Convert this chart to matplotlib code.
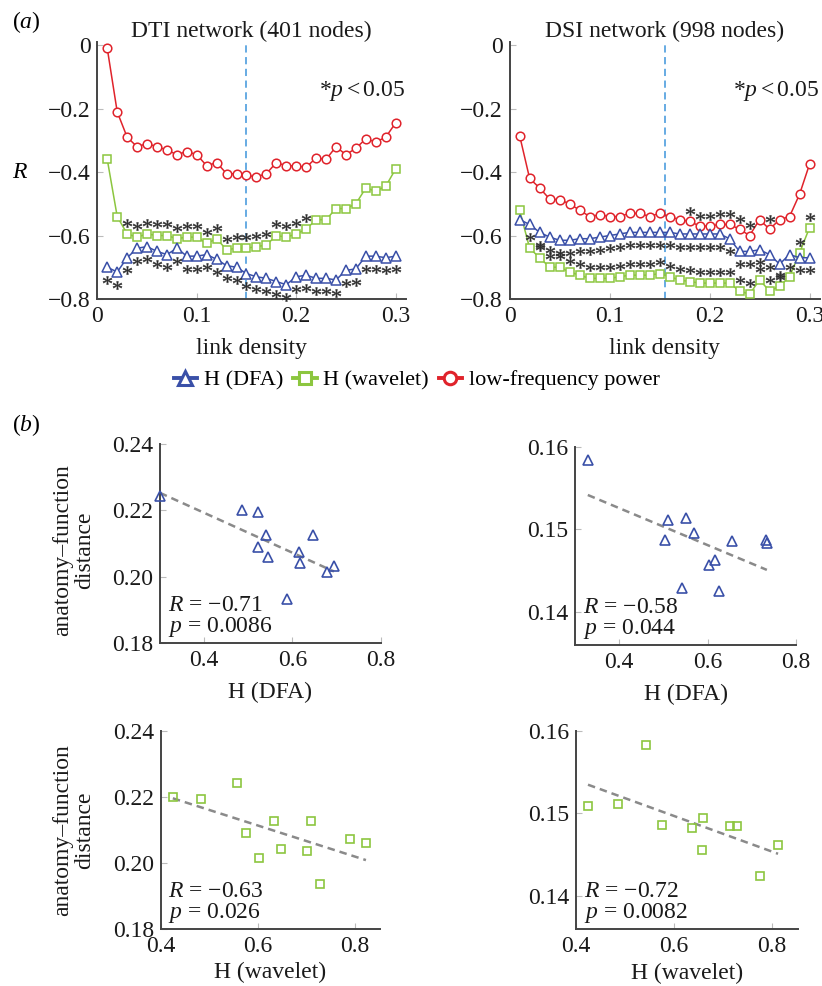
import numpy as np
import matplotlib
matplotlib.use("Agg")
import matplotlib.pyplot as plt
from matplotlib.ticker import FuncFormatter
from matplotlib.lines import Line2D

plt.rcParams["font.family"] = ["Liberation Serif", "DejaVu Serif"]
plt.rcParams["mathtext.fontset"] = "custom"
plt.rcParams["mathtext.rm"] = "Liberation Serif"
plt.rcParams["mathtext.it"] = "Liberation Serif:italic"
plt.rcParams["axes.unicode_minus"] = True

BLUE = "#3a50a8"
GREEN = "#8cc63f"
RED = "#e0232b"
STAR = "#2e2e2e"

# (a) link density on the x axis
density = [0.01, 0.02, 0.03, 0.04, 0.05, 0.06, 0.07, 0.08, 0.09, 0.10,
           0.11, 0.12, 0.13, 0.14, 0.15, 0.16, 0.17, 0.18, 0.19, 0.20,
           0.21, 0.22, 0.23, 0.24, 0.25, 0.26, 0.27, 0.28, 0.29, 0.30]

# DTI network (401 nodes)
dti_power = [-0.01, -0.21, -0.29, -0.32, -0.31, -0.32, -0.33, -0.345, -0.335, -0.345,
             -0.38, -0.37, -0.405, -0.405, -0.41, -0.415, -0.405, -0.37, -0.38, -0.38,
             -0.385, -0.355, -0.36, -0.32, -0.345, -0.325, -0.295, -0.305, -0.29, -0.245]
dti_wavelet = [-0.36, -0.54, -0.595, -0.605, -0.595, -0.60, -0.60, -0.61, -0.605, -0.605,
               -0.625, -0.61, -0.645, -0.64, -0.64, -0.635, -0.63, -0.60, -0.605, -0.595,
               -0.58, -0.55, -0.55, -0.515, -0.515, -0.50, -0.45, -0.46, -0.445, -0.39]
dti_dfa = [-0.70, -0.715, -0.67, -0.64, -0.635, -0.65, -0.66, -0.64, -0.665, -0.665,
           -0.66, -0.675, -0.695, -0.70, -0.72, -0.73, -0.735, -0.745, -0.755, -0.73,
           -0.725, -0.735, -0.735, -0.74, -0.71, -0.705, -0.665, -0.665, -0.67, -0.665]
dti_sig_power = []
dti_sig_wavelet = [0.03, 0.04, 0.05, 0.06, 0.07, 0.08, 0.09, 0.10, 0.11, 0.12,
                   0.13, 0.14, 0.15, 0.16, 0.17, 0.18, 0.19, 0.20, 0.21]
dti_sig_dfa = density

# DSI network (998 nodes)
dsi_power = [-0.285, -0.42, -0.45, -0.485, -0.487, -0.50, -0.52, -0.54, -0.535, -0.54,
             -0.54, -0.53, -0.53, -0.54, -0.53, -0.54, -0.55, -0.555, -0.57, -0.57,
             -0.565, -0.565, -0.58, -0.60, -0.55, -0.58, -0.55, -0.54, -0.47, -0.375]
dsi_wavelet = [-0.52, -0.64, -0.67, -0.70, -0.70, -0.715, -0.725, -0.735, -0.735, -0.735,
               -0.73, -0.725, -0.725, -0.725, -0.72, -0.73, -0.74, -0.745, -0.75, -0.75,
               -0.75, -0.75, -0.775, -0.785, -0.74, -0.775, -0.76, -0.73, -0.655, -0.575]
dsi_dfa = [-0.55, -0.565, -0.59, -0.605, -0.615, -0.615, -0.61, -0.61, -0.605, -0.60,
           -0.595, -0.59, -0.59, -0.59, -0.59, -0.59, -0.595, -0.595, -0.595, -0.595,
           -0.595, -0.61, -0.65, -0.65, -0.645, -0.66, -0.69, -0.66, -0.67, -0.67]
dsi_sig_power = [0.18, 0.19, 0.20, 0.21, 0.22, 0.23, 0.24, 0.26]
dsi_sig_wavelet = [0.03, 0.04, 0.05, 0.06, 0.07, 0.08, 0.09, 0.10, 0.11, 0.12,
                   0.13, 0.14, 0.15, 0.16, 0.17, 0.18, 0.19, 0.20, 0.21, 0.22,
                   0.23, 0.24, 0.25, 0.26, 0.27, 0.29, 0.30]
dsi_sig_dfa = density[1:]

dti_cutoff = 0.15
dsi_cutoff = 0.155

# (b) anatomy-function distance vs H, one point per subject
dti_h_dfa = [0.30, 0.486, 0.521, 0.541, 0.521, 0.545, 0.647, 0.615, 0.617, 0.679, 0.694, 0.587]
dti_dist_dfa = [0.2245, 0.2201, 0.2194, 0.2126, 0.2090, 0.2058, 0.2126, 0.2073, 0.2042, 0.2014, 0.2033, 0.1933]
dsi_h_dfa = [0.329, 0.511, 0.552, 0.570, 0.504, 0.655, 0.733, 0.734, 0.616, 0.603, 0.542, 0.625]
dsi_dist_dfa = [0.1584, 0.1511, 0.1514, 0.1496, 0.1487, 0.1486, 0.1487, 0.1483, 0.1463, 0.1457, 0.1429, 0.1425]
dti_h_wav = [0.425, 0.483, 0.557, 0.576, 0.603, 0.633, 0.648, 0.701, 0.710, 0.728, 0.790, 0.823]
dti_dist_wav = [0.2200, 0.2193, 0.2242, 0.2089, 0.2015, 0.2125, 0.2042, 0.2034, 0.2125, 0.1934, 0.2072, 0.2059]
dsi_h_wav = [0.4245, 0.486, 0.542, 0.576, 0.636, 0.660, 0.656, 0.714, 0.728, 0.812, 0.776]
dsi_dist_wav = [0.1509, 0.1512, 0.1583, 0.1486, 0.1482, 0.1494, 0.1456, 0.1485, 0.1485, 0.1462, 0.1424]

stats_text = ["$R$ = −0.71\n$p$ = 0.0086", "$R$ = −0.58\n$p$ = 0.044",
              "$R$ = −0.63\n$p$ = 0.026", "$R$ = −0.72\n$p$ = 0.0082"]


def style_axes(ax):
    for side in ["top", "right"]:
        ax.spines[side].set_visible(False)
    for side in ["left", "bottom"]:
        ax.spines[side].set_color("#444444")
        ax.spines[side].set_linewidth(1.4)
    ax.tick_params(direction="in", length=4, width=0.8, color="#bbbbbb",
                   labelsize=17, pad=5, labelcolor="#1a1a1a")


def fmt_g(v, pos):
    return ("%g" % round(v, 3)).replace("-", "\u2212")


fig = plt.figure(figsize=(8.22, 9.86), dpi=100)

ax1 = fig.add_axes([0.1184, 0.6968, 0.375, 0.2605])
ax2 = fig.add_axes([0.620, 0.6968, 0.377, 0.2605])

panels = [
    (ax1, "DTI network (401 nodes)", dti_dfa, dti_wavelet, dti_power,
     dti_sig_dfa, dti_sig_wavelet, dti_sig_power, dti_cutoff),
    (ax2, "DSI network (998 nodes)", dsi_dfa, dsi_wavelet, dsi_power,
     dsi_sig_dfa, dsi_sig_wavelet, dsi_sig_power, dsi_cutoff),
]

for ax, title, dfa, wav, pw, s_dfa, s_wav, s_pw, cut in panels:
    ax.axvline(cut, color="#5aa5e0", lw=1.3, ls=(0, (4, 2.5)), zorder=1)
    ax.plot(density, pw, color=RED, lw=1.1, marker="o", ms=6.2, mfc="white",
            mew=1.1, zorder=3)
    ax.plot(density, wav, color=GREEN, lw=1.1, marker="s", ms=5.6, mfc="white",
            mew=1.1, zorder=3)
    ax.plot(density, dfa, color=BLUE, lw=1.1, marker="^", ms=7.8, mfc="white",
            mew=1.1, zorder=3)

    # significance stars: above the wavelet / power points, below the DFA points
    for sig, vals, off in [(s_pw, pw, 0.033), (s_wav, wav, 0.035), (s_dfa, dfa, -0.04)]:
        if not sig:
            continue
        xs = [d for d in sig]
        ys = [vals[density.index(d)] + off for d in sig]
        ax.plot(xs, ys, ls="none", marker="$*$", ms=6.6, color=STAR, mew=0.25,
                zorder=4, clip_on=False)

    ax.set_xlim(0, 0.31)
    ax.set_ylim(-0.8, 0.01)
    ax.set_xticks([0, 0.1, 0.2, 0.3])
    ax.set_yticks([0, -0.2, -0.4, -0.6, -0.8])
    ax.xaxis.set_major_formatter(FuncFormatter(fmt_g))
    ax.yaxis.set_major_formatter(FuncFormatter(fmt_g))
    style_axes(ax)
    ax.set_title(title, fontsize=17, pad=2, color="#1a1a1a")
    ax.set_xlabel("link density", fontsize=17, labelpad=8, color="#1a1a1a")
    ax.text(1.0, 0.81, "*$p<0.05$", transform=ax.transAxes, ha="right",
            va="center", fontsize=17, color="#1a1a1a")

fig.text(0.025, 1 - 172 / 986, "$R$", fontsize=17, ha="center", va="center")
fig.text(0.014, 1 - 22 / 986, "($a$)", fontsize=17, ha="left", va="center")
fig.text(0.014, 1 - 425 / 986, "($b$)", fontsize=17, ha="left", va="center")

handles = [
    Line2D([], [], color=BLUE, lw=2.8, marker="^", ms=10, mfc="white", mew=2.2),
    Line2D([], [], color=GREEN, lw=2.8, marker="s", ms=9, mfc="white", mew=2.2),
    Line2D([], [], color=RED, lw=2.8, marker="o", ms=9, mfc="white", mew=2.2),
]
fig.legend(handles, ["H (DFA)", "H (wavelet)", "low-frequency power"],
           loc="center", bbox_to_anchor=(0.507, 1 - 380 / 986), ncol=3,
           frameon=False, fontsize=16, handlelength=1.05, handletextpad=0.3,
           columnspacing=0.45)

b_axes = [
    (fig.add_axes([0.1946, 0.3482, 0.2686, 0.2012]), dti_h_dfa, dti_dist_dfa, BLUE, "^",
     (0.3, 0.8), (0.18, 0.24), [0.4, 0.6, 0.8], [0.18, 0.20, 0.22, 0.24], "H (DFA)", 8),
    (fig.add_axes([0.6995, 0.3458, 0.2689, 0.2011]), dsi_h_dfa, dsi_dist_dfa, BLUE, "^",
     (0.3, 0.8), (0.136, 0.16), [0.4, 0.6, 0.8], [0.14, 0.15, 0.16], "H (DFA)", 8),
    (fig.add_axes([0.1955, 0.0581, 0.2668, 0.2008]), dti_h_wav, dti_dist_wav, GREEN, "s",
     (0.4, 0.852), (0.18, 0.24), [0.4, 0.6, 0.8], [0.18, 0.20, 0.22, 0.24], "H (wavelet)", 4),
    (fig.add_axes([0.7007, 0.0575, 0.2697, 0.2014]), dsi_h_wav, dsi_dist_wav, GREEN, "s",
     (0.4, 0.852), (0.136, 0.16), [0.4, 0.6, 0.8], [0.14, 0.15, 0.16], "H (wavelet)", 4),
]

for i, (ax, hx, dy, col, mk, xl, yl, xt, yt, xlab, lpad) in enumerate(b_axes):
    slope, icpt = np.polyfit(hx, dy, 1)
    fx = np.array([min(hx), max(hx)])
    ax.plot(fx, slope * fx + icpt, color="#8a8a8a", lw=1.8, ls=(0, (3, 2)), zorder=2)
    ax.plot(hx, dy, ls="none", marker=mk, ms=7.6 if mk == "^" else 6.0,
            mfc="none", mec=col, mew=1.2, zorder=3, clip_on=False)
    ax.set_xlim(*xl)
    ax.set_ylim(*yl)
    ax.set_xticks(xt)
    ax.set_yticks(yt)
    ax.xaxis.set_major_formatter(FuncFormatter(lambda v, p: "%.1f" % v))
    ax.yaxis.set_major_formatter(FuncFormatter(lambda v, p: "%.2f" % v))
    style_axes(ax)
    ax.set_xlabel(xlab, fontsize=17, labelpad=lpad, color="#1a1a1a")
    ax.text(0.035, 0.02, stats_text[i], transform=ax.transAxes, ha="left",
            va="bottom", fontsize=17, linespacing=0.95, color="#1a1a1a")

fig.text(74 / 822, 1 - 550 / 986, "anatomy\u2013function\ndistance", rotation=90,
         ha="center", va="center", fontsize=17, multialignment="center",
         linespacing=1.05, color="#1a1a1a")
fig.text(74 / 822, 1 - 830 / 986, "anatomy\u2013function\ndistance", rotation=90,
         ha="center", va="center", fontsize=17, multialignment="center",
         linespacing=1.05, color="#1a1a1a")

plt.savefig("out.png", dpi=100)
